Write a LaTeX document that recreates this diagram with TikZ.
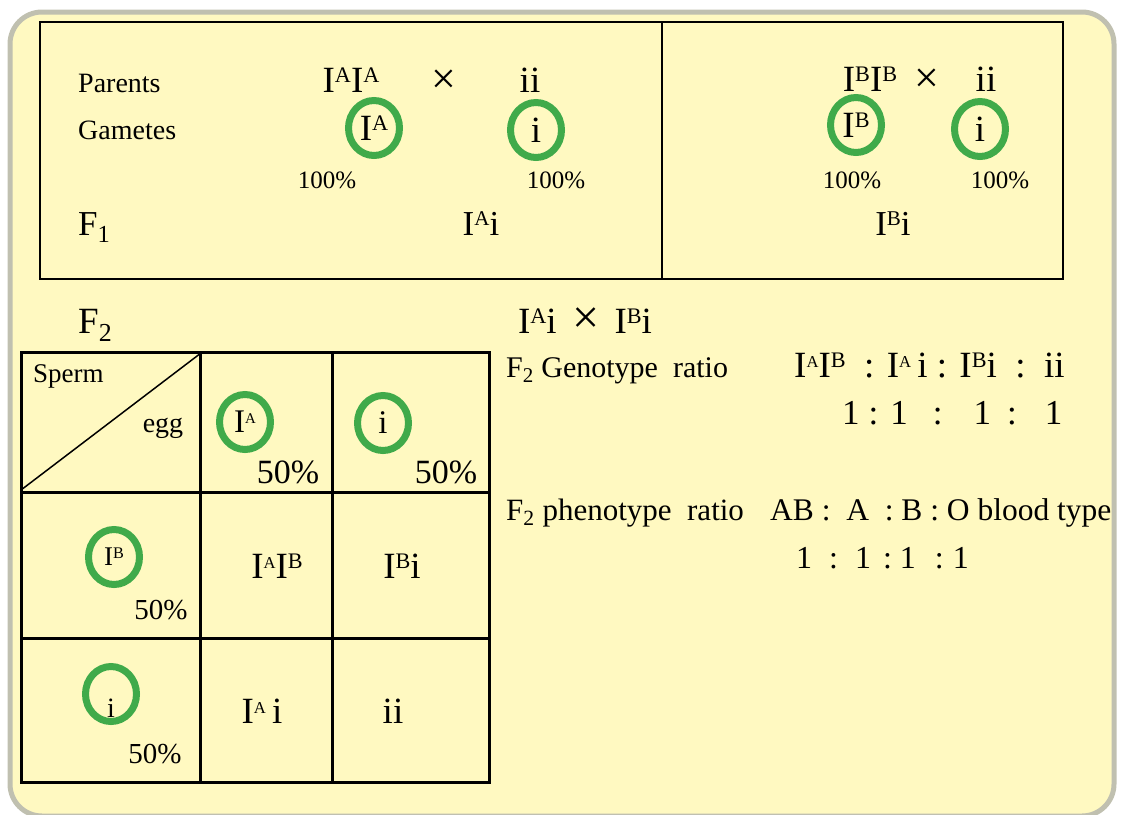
\documentclass[tikz,border=0pt]{standalone}
\usepackage{fontspec}
\setmainfont{Liberation Serif}
\usetikzlibrary{positioning,shapes.geometric}
\definecolor{paper}{RGB}{255,249,193}
\definecolor{rim}{RGB}{192,192,176}
\definecolor{gamgreen}{RGB}{64,170,74}
\newcommand{\fs}[1]{\fontsize{#1}{#1}\selectfont}
\newcommand{\al}[2][0.6]{I\raisebox{0.27em}{\scalebox{#1}{#2}}}

\begin{document}
\begin{tikzpicture}[x=1pt, y=-1pt,
  gam/.style={ellipse, draw=gamgreen, line width=7pt, minimum width=51pt, minimum height=55pt, inner sep=0pt, font=\fs{37}},
  lab/.style={anchor=base west, inner sep=0pt},
  geno/.style={anchor=base, inner sep=0pt, font=\fs{37}},
  pct/.style={anchor=base, inner sep=0pt, font=\fs{25}},
  cross/.style={anchor=base, inner sep=0pt, font=\fs{44}},
  grid/.style={line width=3pt}]
\clip (0,0) rectangle (1121,814);
\draw[rim, line width=5pt, fill=paper, rounded corners=32pt] (10,12) rectangle (1114,816);
% P and F1
\draw[line width=2pt] (40,22) rectangle (1063,279);
\draw[line width=2pt] (662,22) -- (662,279);
\node[lab, font=\fs{28}] (par) at (78,92) {Parents};
\node[lab, font=\fs{28}] (gmt) at (78,139) {Gametes};
\node[lab, font=\fs{35}] (F1) at (78,235) {F\textsubscript{1}};
\node[geno] (pAA) at (351,92) {\al{A}\al{A}};
\node[cross] (x1) at (444,93) {×};
\node[geno] (pii1) at (530,92) {ii};
\node[gam] (gA) at (374,128) {\al{A}};
\node[gam] (gi1) at (536,130) {i};
\node[pct] (pc1) at (327,188) {100\%};
\node[pct] (pc2) at (556,188) {100\%};
\node[geno, font=\fs{35}] (f1A) at (481,235) {\al{A}i};
\node[geno] (pBB) at (870,91) {\al{B}\al{B}};
\node[cross] (x2) at (927,92) {×};
\node[geno] (pii2) at (986,91) {ii};
\node[gam] (gB) at (856,125) {\al{B}};
\node[gam] (gi2) at (980,129) {i};
\node[pct] (pc3) at (852,188) {100\%};
\node[pct] (pc4) at (1000,188) {100\%};
\node[geno, font=\fs{35}] (f1B) at (893,235) {\al{B}i};
% F2 punnett square
\node[lab, font=\fs{37}] (F2) at (78,333) {F\textsubscript{2}};
\draw[grid] (21,352) rectangle (489,782);
\draw[grid] (200,352) -- (200,782);
\draw[grid] (332,352) -- (332,782);
\draw[grid] (21,492) -- (489,492);
\draw[grid] (21,638) -- (489,638);
\draw[line width=1.5pt] (21,490) -- (201,353);
\node[lab, font=\fs{27}] (sp) at (33,382) {Sperm};
\node[anchor=base, inner sep=0pt, font=\fs{28}] (egg) at (163,432) {egg};
\node[gam, font=\fs{33}] (eA) at (245,422) {\al[0.45]{A}};
\node[gam, font=\fs{33}] (ei) at (383,423) {i};
\node[pct, font=\fs{34}] (pc5) at (288,483) {50\%};
\node[pct, font=\fs{34}] (pc6) at (446,483) {50\%};
\node[gam, font=\fs{27}] (sB) at (114,557) {\al{B}};
\node[pct, font=\fs{29}] (pc7) at (161,619) {50\%};
\node[gam] (si) at (111,694) {};
\node[anchor=base, inner sep=0pt, font=\fs{28}] (sit) at (111,717) {i};
\node[pct, font=\fs{29}] (pc8) at (155,763) {50\%};
\node[geno] (cAB) at (277,578) {\al[0.45]{A}\al{B}};
\node[geno] (cBi) at (402,578) {\al{B}i};
\node[geno] (cAi) at (262,723) {\al[0.45]{A}\,i};
\node[geno] (cii) at (393,723) {ii};
% ratios
\node[geno] (x3) at (585,333) {\al{A}i \,\scalebox{1.3}{×}\, \al{B}i};
\node[lab, font=\fs{30}] (gr) at (506,377) {F\textsubscript{2} Genotype\ \ ratio};
\node[lab, font=\fs{37}] (grv) at (794,377) {\al[0.45]{A}\al{B}\ \ : \al[0.45]{A}\,i : \al{B}i\ \ :\ \ ii};
\node[lab, font=\fs{35}] (grn) at (842,424) {1\hspace{9pt}:\hspace{12pt}1\hspace{25pt}:\hspace{31pt}1\hspace{16pt}:\hspace{28pt}1};
\node[lab, font=\fs{31}] (pr) at (506,520) {F\textsubscript{2} phenotype\ \ ratio};
\node[lab, font=\fs{31.5}] (prv) at (770,520) {AB :\ \ A\ \ : B : O blood type};
\node[lab, font=\fs{32}] (prn) at (796,568) {1\hspace{17pt}:\hspace{17pt}1\hspace{12pt}:\hspace{8pt}1\hspace{19pt}:\hspace{9pt}1};
\end{tikzpicture}
\end{document}
